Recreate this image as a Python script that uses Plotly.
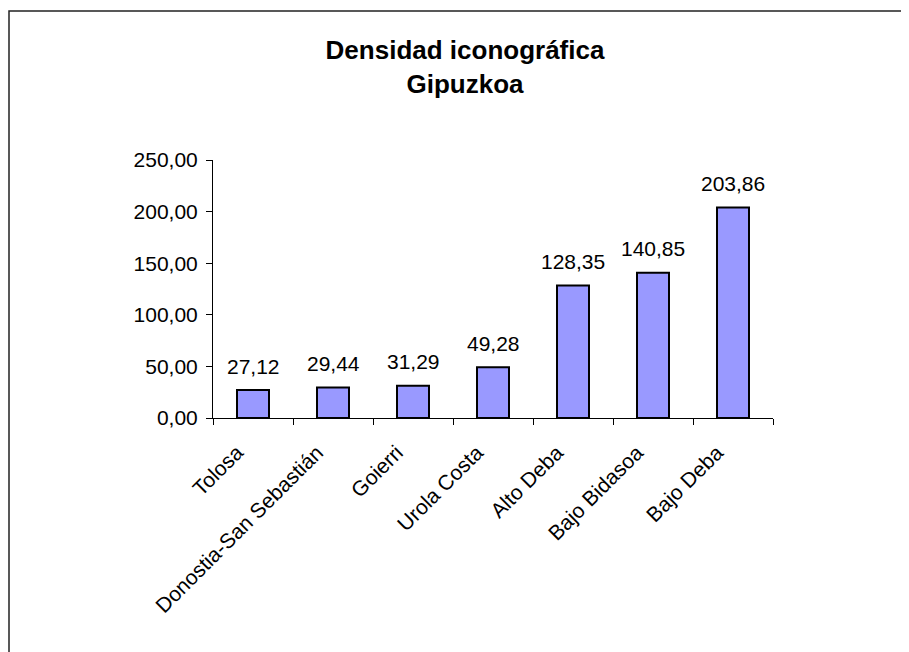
import plotly.graph_objects as go

# ------------------------------------------------------------
# Densidad iconográfica - Gipuzkoa
# ------------------------------------------------------------
comarcas = ["Tolosa", "Donostia-San Sebastián", "Goierri", "Urola Costa",
            "Alto Deba", "Bajo Bidasoa", "Bajo Deba"]
densidad = [27.12, 29.44, 31.29, 49.28, 128.35, 140.85, 203.86]
y_ticks = [0, 50, 100, 150, 200, 250]

# page body adds an 8px margin, so the figure is 8px smaller each way
W, H = 901, 644
ML, MT = 205, 152
plot_w, plot_h = 560, 258
MR = W - ML - plot_w
MB = H - MT - plot_h

FONT = "Liberation Sans, Arial"

fig = go.Figure()
fig.add_trace(go.Bar(
    x=comarcas,
    y=densidad,
    marker=dict(color="#9999FF", line=dict(color="black", width=2)),
    hovertemplate="%{x}: %{y:.2f}<extra></extra>",
))

# data labels sit a bit higher than plotly's default outside text
for c, v in zip(comarcas, densidad):
    fig.add_annotation(
        x=c, y=v, text=f"{v:.2f}".replace(".", ","),
        showarrow=False, yanchor="middle", yshift=24,
        font=dict(family=FONT, size=21, color="black"),
    )

# chart area border (only top and left edges are visible)
fig.add_shape(
    type="rect", xref="paper", yref="paper",
    x0=(1 - ML) / plot_w, x1=2.0,
    y0=-2.0, y1=(MT + plot_h - 3) / plot_h,
    line=dict(color="#222222", width=1.5),
    fillcolor="rgba(0,0,0,0)",
)

fig.update_layout(
    width=W, height=H,
    margin=dict(l=ML, r=MR, t=MT, b=MB),
    plot_bgcolor="white",
    paper_bgcolor="white",
    separators=",.",
    showlegend=False,
    bargap=0.6,
    font=dict(family=FONT, size=21, color="black"),
    title=dict(
        text="<b>Densidad iconográfica<br>Gipuzkoa</b>",
        x=457 / W, xanchor="center",
        y=1 - 51 / H, yanchor="middle", yref="container",
        font=dict(family=FONT, size=26, color="black"),
    ),
    xaxis=dict(
        showline=True, linecolor="black", linewidth=1,
        ticks="outside", tickson="boundaries", ticklen=6, tickcolor="black",
        tickangle=-45, showgrid=False, ticklabelstandoff=13,
        ticklabelshift=-16,
        tickfont=dict(size=21),
    ),
    yaxis=dict(
        range=[0, 250], tickvals=y_ticks, tickformat=".2f",
        showline=True, linecolor="black", linewidth=1,
        ticks="outside", ticklen=6, tickcolor="black",
        showgrid=False, zeroline=False, ticklabelstandoff=4,
        tickfont=dict(size=21),
    ),
)

fig.write_html("out.html")
